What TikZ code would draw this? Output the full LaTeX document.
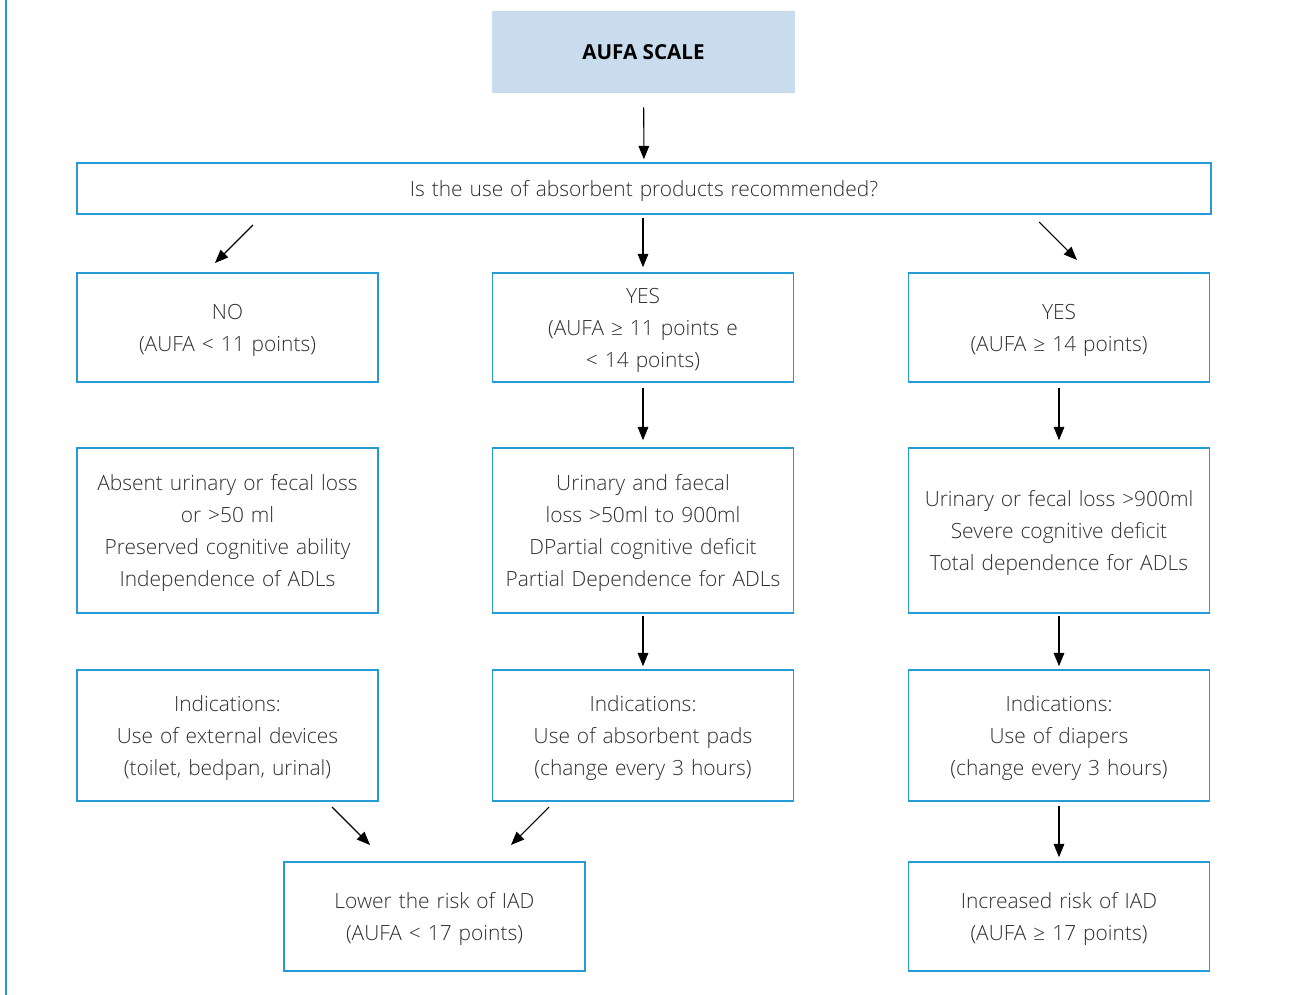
\documentclass[tikz,border=0pt]{standalone}
\usepackage{fontspec}
\setmainfont{Open Sans}
\newfontfamily\lightfont{Open Sans Light}
\usetikzlibrary{arrows.meta}

\definecolor{boxblue}{RGB}{38,154,212}
\definecolor{titlefill}{RGB}{201,220,238}
\definecolor{txtgray}{RGB}{45,45,45}

\tikzset{
  box/.style={draw=boxblue, line width=1.2pt, inner sep=0pt, align=center,
    text=txtgray, font=\lightfont\fontsize{15.7}{24}\selectfont, minimum width=225.75pt,
    text width=224pt, execute at begin node={\rule{0pt}{16.5pt}}},
  titlebox/.style={fill=titlefill, inner sep=0pt, minimum width=227.25pt,
    minimum height=61.5pt, font=\fontsize{15.5}{24}\selectfont\bfseries},
  arr/.style={-{Triangle[length=10pt,width=8pt]}, line width=0.8pt}
}

\begin{document}
\begin{tikzpicture}[x=0.75pt,y=-0.75pt]
\useasboundingbox (0,0) rectangle (1289,995);
\draw[boxblue, line width=1.3pt](6,0)--(6,995);

% top
\node[titlebox] (scale) at (643.5,52) {AUFA SCALE};
\node[box, minimum width=850.5pt, text width=840pt, minimum height=38.25pt] (quest) at (644,188.5)
  {Is the use of absorbent products recommended?};

% first row
\node[box, minimum height=81.75pt] (no) at (227.5,327.5) {NO\\(AUFA < 11 points)};
\node[box, minimum height=81.75pt] (yesmid) at (643,327.5) {YES\\(AUFA ≥ 11 points e\\< 14 points)};
\node[box, minimum height=81.75pt] (yeshigh) at (1059,327.5) {YES\\(AUFA ≥ 14 points)};

% second row
\node[box, minimum height=123.75pt] (lossno) at (227.5,530.5)
  {Absent urinary or fecal loss\\or >50 ml\\Preserved cognitive ability\\Independence of ADLs};
\node[box, minimum height=123.75pt] (lossmid) at (643,530.5)
  {Urinary and faecal\\loss >50ml to 900ml\\DPartial cognitive deficit\\Partial Dependence for ADLs};
\node[box, minimum height=123.75pt] (losshigh) at (1059,530.5)
  {Urinary or fecal loss >900ml\\Severe cognitive deficit\\Total dependence for ADLs};

% third row
\node[box, minimum height=98.25pt] (indno) at (227.5,735.5)
  {Indications:\\Use of external devices\\(toilet, bedpan, urinal)};
\node[box, minimum height=98.25pt] (indmid) at (643,735.5)
  {Indications:\\Use of absorbent pads\\(change every 3 hours)};
\node[box, minimum height=98.25pt] (indhigh) at (1059,735.5)
  {Indications:\\Use of diapers\\(change every 3 hours)};

% outcome
\node[box, minimum height=81.75pt] (lowrisk) at (434.5,916.5)
  {Lower the risk of IAD\\(AUFA < 17 points)};
\node[box, minimum height=81.75pt] (highrisk) at (1059,916.5)
  {Increased risk of IAD\\(AUFA ≥ 17 points)};

% free ends of the slanted arrows
\coordinate (qa) at (253,225);
\coordinate (qb) at (215,263);
\coordinate (qc) at (1039,222);
\coordinate (qd) at (1077,260);
\coordinate (la) at (332,807);
\coordinate (lb) at (370,845);
\coordinate (ma) at (549,807);
\coordinate (mb) at (511,845);

\draw[arr, shorten <=10.5pt, shorten >=2.25pt](scale)--(quest);
\draw[arr](qa)--(qb);
\draw[arr, shorten <=2.25pt, shorten >=3.75pt](quest.south -| yesmid.north)--(yesmid.north);
\draw[arr](qc)--(qd);
\draw[arr, shorten <=3.75pt, shorten >=5.25pt](yesmid)--(lossmid);
\draw[arr, shorten <=3.75pt, shorten >=5.25pt](yeshigh)--(losshigh);
\draw[arr, shorten <=1.5pt, shorten >=2.25pt](lossmid)--(indmid);
\draw[arr, shorten <=1.5pt, shorten >=2.25pt](losshigh)--(indhigh);
\draw[arr](la)--(lb);
\draw[arr](ma)--(mb);
\draw[arr, shorten <=3pt, shorten >=3pt](indhigh)--(highrisk);
\end{tikzpicture}
\end{document}
